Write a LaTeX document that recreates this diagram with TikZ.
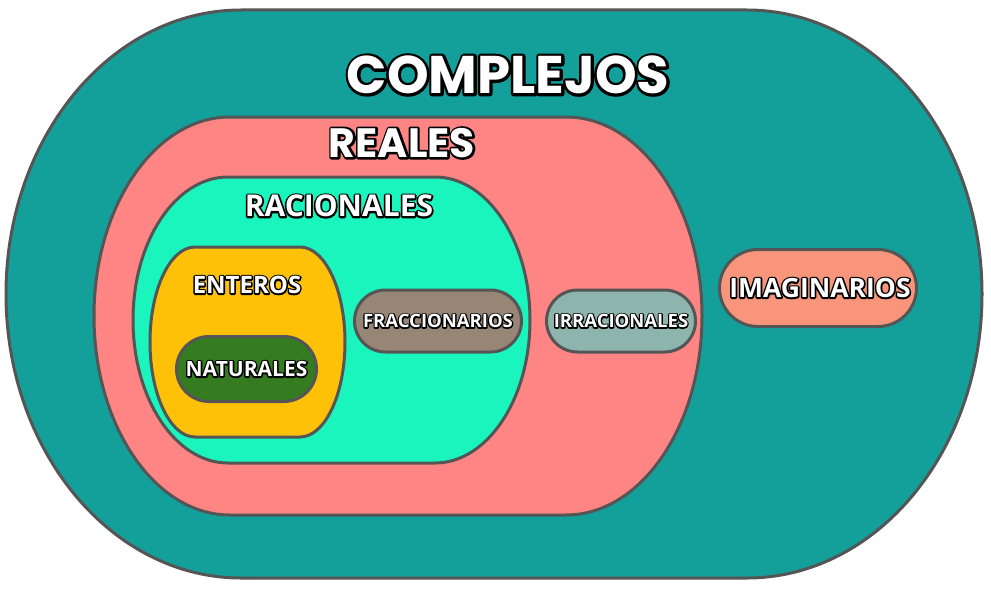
\documentclass[tikz,border=0pt]{standalone}
\usepackage{fontspec}
\usetikzlibrary{shapes.misc}
\newfontfamily\popfont{Poppins}
\newfontfamily\opsfont{Open Sans}
\definecolor{edgegray}{HTML}{555555}
\definecolor{complejoscol}{HTML}{13A09B}
\definecolor{realescol}{HTML}{FF8585}
\definecolor{racionalescol}{HTML}{1AF5BE}
\definecolor{enteroscol}{HTML}{FFC107}
\definecolor{naturalescol}{HTML}{357B1F}
\definecolor{fraccol}{HTML}{978675}
\definecolor{irraccol}{HTML}{8DB5AD}
\definecolor{imagcol}{HTML}{F9957B}
% stroked (outline) text via PDF text render mode 1
\newcommand\strokedtext[2]{\special{pdf:literal direct 1 j 1 J #1 w 1 Tr}#2\special{pdf:literal direct 0 Tr}}
\tikzset{
  region/.style={draw=edgegray, line width=3pt},
  pill/.style={rounded rectangle, draw=edgegray, line width=3pt, inner sep=0pt},
  lbl/.style={text=white, inner sep=0pt},
  olbl/.style={text=black, inner sep=0pt},
  fbig/.style={font=\popfont\bfseries\fontsize{53}{53}\selectfont},
  freal/.style={font=\popfont\bfseries\fontsize{41}{41}\selectfont},
  frac/.style={font=\opsfont\bfseries\fontsize{30}{30}\selectfont},
  fent/.style={font=\opsfont\bfseries\fontsize{24}{24}\selectfont},
  fnat/.style={font=\opsfont\bfseries\fontsize{21}{21}\selectfont},
  fsmall/.style={font=\opsfont\bfseries\fontsize{18.5}{18.5}\selectfont},
  fimag/.style={font=\opsfont\bfseries\fontsize{26.5}{26.5}\selectfont},
}
\begin{document}
\begin{tikzpicture}[x=1pt,y=-1pt]
\useasboundingbox (0,0) rectangle (991,594);
% COMPLEJOS
\draw[region, fill=complejoscol] (241,10) -- (747,10)
  arc[start angle=-90, end angle=90, x radius=235, y radius=284] -- (241,578)
  arc[start angle=90, end angle=270, x radius=235, y radius=284] -- cycle;
% REALES
\draw[region, fill=realescol] (230,117) -- (566,117)
  arc[start angle=-90, end angle=90, x radius=136, y radius=199] -- (230,515)
  arc[start angle=90, end angle=270, x radius=136, y radius=199] -- cycle;
% RACIONALES
\draw[region, fill=racionalescol] (228,177) -- (435,177)
  arc[start angle=-90, end angle=90, x radius=95, y radius=143] -- (228,463)
  arc[start angle=90, end angle=270, x radius=95, y radius=143] -- cycle;
% ENTEROS
\draw[region, fill=enteroscol] (195,247) -- (300,247)
  arc[start angle=-90, end angle=90, x radius=45, y radius=95] -- (195,437)
  arc[start angle=90, end angle=270, x radius=45, y radius=95] -- cycle;

% pills
\node[pill, fill=naturalescol, minimum width=140pt, minimum height=65pt] (naturales) at (246.5,369) {};
\node[pill, fill=fraccol, minimum width=167pt, minimum height=62pt] (fraccionarios) at (438,321) {};
\node[pill, fill=irraccol, minimum width=149pt, minimum height=62pt] (irracionales) at (621,321) {};
\node[pill, fill=imagcol, minimum width=197pt, minimum height=77pt] (imaginarios) at (818,288) {};

% outlines (black stroke under the white letters)
\node[olbl, fbig] (complejos-o) at (508,75) {\strokedtext{5.5}{COMPLEJOS}};
\node[olbl, freal] (reales-o) at (402,143) {\strokedtext{4.2}{REALES}};
\node[olbl, frac] (racionales-o) at (339,206) {\strokedtext{3.4}{RACIONALES}};
\node[olbl, fent] (enteros-o) at (247,285) {\strokedtext{3}{ENTEROS}};
\node[olbl, fnat] (naturales-o) at (naturales.center) {\strokedtext{3}{NATURALES}};
\node[olbl, fsmall] (fraccionarios-o) at (fraccionarios.center) {\strokedtext{2.6}{FRACCIONARIOS}};
\node[olbl, fsmall] (irracionales-o) at (irracionales.center) {\strokedtext{2.6}{IRRACIONALES}};
\node[olbl, fimag] (imaginarios-o) at ([xshift=2pt]imaginarios.center) {\strokedtext{3.2}{IMAGINARIOS}};

% white letters
\node[lbl, fbig] (complejos-t) at (complejos-o.center) {COMPLEJOS};
\node[lbl, freal] (reales-t) at (reales-o.center) {REALES};
\node[lbl, frac] (racionales-t) at (racionales-o.center) {RACIONALES};
\node[lbl, fent] (enteros-t) at (enteros-o.center) {ENTEROS};
\node[lbl, fnat] (naturales-t) at (naturales-o.center) {NATURALES};
\node[lbl, fsmall] (fraccionarios-t) at (fraccionarios-o.center) {FRACCIONARIOS};
\node[lbl, fsmall] (irracionales-t) at (irracionales-o.center) {IRRACIONALES};
\node[lbl, fimag] (imaginarios-t) at (imaginarios-o.center) {IMAGINARIOS};
\end{tikzpicture}
\end{document}
